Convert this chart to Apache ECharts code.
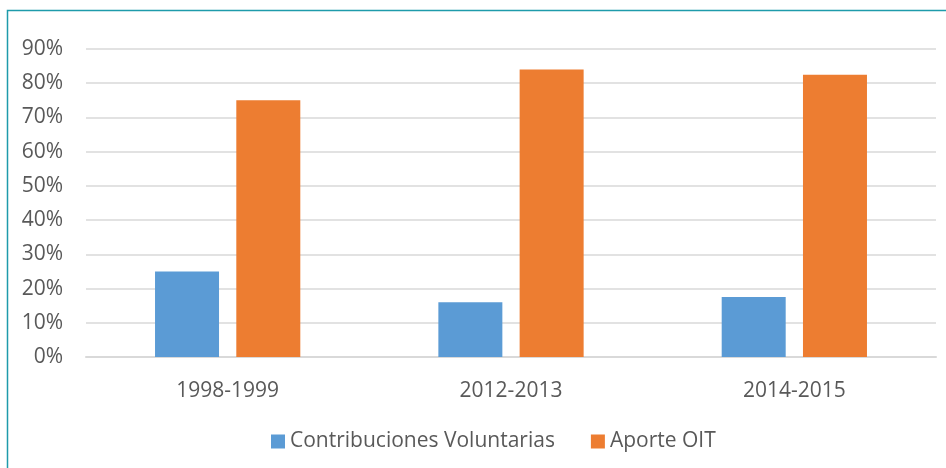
<!DOCTYPE html>
<html>
<head>
<meta charset="utf-8">
<script src="https://cdn.jsdelivr.net/npm/echarts@6/dist/echarts.min.js"></script>
<style>
  html, body { margin: 0; padding: 0; background: #fff; }
  #main { width: 946px; height: 468px; }
</style>
</head>
<body>
<div id="main"></div>
<script>
var periods = ['1998-1999', '2012-2013', '2014-2015'];
var voluntarias = [25, 16, 17.5];
var aporteOIT = [75, 84, 82.5];
var tickMax = 90;

var chart = echarts.init(document.getElementById('main'));

var txt = '#595959';
var font = 'Open Sans';

var option = {
    animation: false,
    textStyle: { fontFamily: font },
    graphic: [
        {
            type: 'rect',
            shape: { x: 7.5, y: 10.5, width: 960, height: 480 },
            style: { fill: 'none', stroke: '#1E9BAB', lineWidth: 1.5 },
            silent: true
        }
    ],
    grid: { left: 86, right: 10, top: 49, bottom: 111 },
    legend: {
        bottom: 11,
        left: 266,
        itemWidth: 14,
        itemHeight: 14,
        itemGap: 36,
        icon: 'rect',
        textStyle: { color: txt, fontSize: 21, fontFamily: font },
        data: ['Contribuciones Voluntarias', 'Aporte OIT']
    },
    xAxis: {
        type: 'category',
        data: periods,
        axisLine: { lineStyle: { color: '#D9D9D9', width: 2 } },
        axisTick: { show: false },
        axisLabel: { color: txt, fontSize: 21, margin: 24, fontFamily: font }
    },
    yAxis: {
        type: 'value',
        min: 0,
        max: tickMax,
        interval: 10,
        axisLine: { show: false },
        axisTick: { show: false },
        splitLine: { lineStyle: { color: '#D9D9D9', width: 1.5 } },
        axisLabel: {
            color: txt,
            fontSize: 21,
            margin: 23,
            fontFamily: font,
            formatter: '{value}%'
        }
    },
    series: [
        {
            name: 'Contribuciones Voluntarias',
            type: 'bar',
            data: voluntarias,
            barWidth: 64,
            barGap: '27%',
            itemStyle: { color: '#5B9BD5' }
        },
        {
            name: 'Aporte OIT',
            type: 'bar',
            data: aporteOIT,
            barWidth: 64,
            itemStyle: { color: '#ED7D31' }
        }
    ]
};

chart.setOption(option);
</script>
</body>
</html>
